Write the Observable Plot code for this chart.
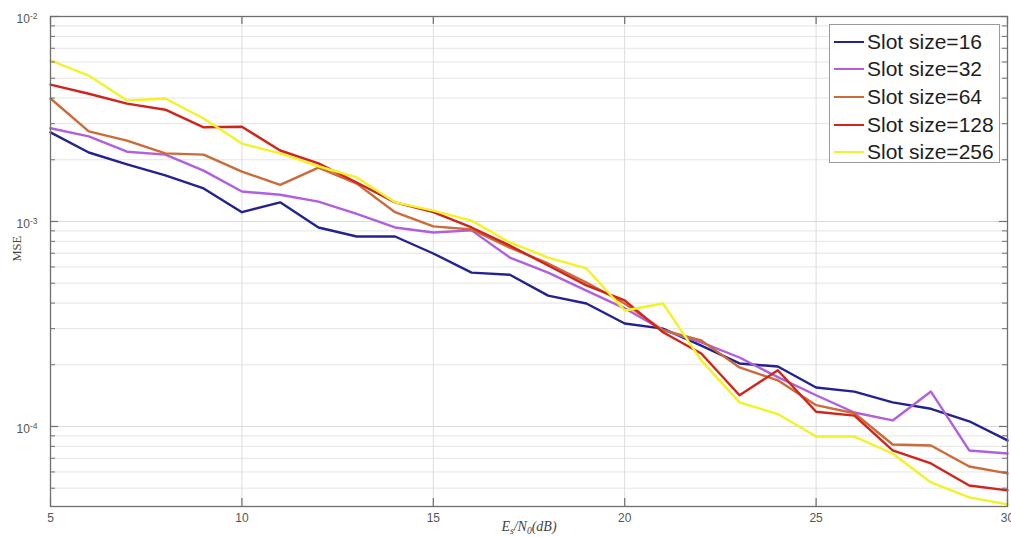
<!DOCTYPE html>
<html><head><meta charset="utf-8">
<script src="https://cdn.jsdelivr.net/npm/d3@7"></script>
<script src="https://cdn.jsdelivr.net/npm/@observablehq/plot@0.6"></script>
<style>
body{margin:0;background:#fff;}
#wrap{position:relative;width:1011px;height:537px;overflow:hidden;}
#legend{position:absolute;left:829px;top:24px;width:171px;height:139px;border:1.3px solid #9a9a9a;background:#fff;box-sizing:border-box;padding-top:3px;font-family:"Liberation Sans",Arial,sans-serif;font-size:21px;color:#1e1e1e;}
#legend .row{display:flex;align-items:center;height:27.6px;}
#legend .sw{width:30px;height:2px;margin-left:4px;margin-right:3px;}
</style>
</head><body><div id="wrap"></div>
<script>
const snr = [5,6,7,8,9,10,11,12,13,14,15,16,17,18,19,20,21,22,23,24,25,26,27,28,29,30];
const mse16  = [2.72e-3,2.17e-3,1.9e-3,1.68e-3,1.45e-3,1.11e-3,1.24e-3,9.35e-4,8.45e-4,8.45e-4,6.98e-4,5.63e-4,5.5e-4,4.35e-4,3.98e-4,3.18e-4,3.0e-4,2.48e-4,2.03e-4,1.96e-4,1.55e-4,1.48e-4,1.31e-4,1.22e-4,1.06e-4,8.55e-5];
const mse32  = [2.85e-3,2.6e-3,2.19e-3,2.12e-3,1.77e-3,1.4e-3,1.35e-3,1.25e-3,1.09e-3,9.35e-4,8.84e-4,9.05e-4,6.67e-4,5.63e-4,4.6e-4,3.77e-4,2.95e-4,2.57e-4,2.17e-4,1.74e-4,1.42e-4,1.17e-4,1.07e-4,1.48e-4,7.64e-5,7.38e-5];
const mse64  = [3.98e-3,2.75e-3,2.48e-3,2.15e-3,2.12e-3,1.75e-3,1.51e-3,1.83e-3,1.53e-3,1.11e-3,9.46e-4,9.14e-4,7.46e-4,6.24e-4,5.04e-4,3.98e-4,2.95e-4,2.63e-4,1.94e-4,1.68e-4,1.27e-4,1.16e-4,8.17e-5,8.07e-5,6.38e-5,5.9e-5];
const mse128 = [4.65e-3,4.2e-3,3.76e-3,3.51e-3,2.88e-3,2.9e-3,2.22e-3,1.92e-3,1.55e-3,1.24e-3,1.11e-3,9.35e-4,7.63e-4,6.1e-4,4.88e-4,4.12e-4,2.88e-4,2.27e-4,1.42e-4,1.88e-4,1.18e-4,1.13e-4,7.64e-5,6.6e-5,5.15e-5,4.88e-5];
const mse256 = [6.1e-3,5.15e-3,3.89e-3,3.98e-3,3.18e-3,2.4e-3,2.15e-3,1.86e-3,1.64e-3,1.24e-3,1.13e-3,1.01e-3,7.9e-4,6.67e-4,5.9e-4,3.68e-4,3.98e-4,2.1e-4,1.31e-4,1.15e-4,8.93e-5,8.93e-5,7.38e-5,5.33e-5,4.51e-5,4.17e-5];
const seriesNames = ["Slot size=16","Slot size=32","Slot size=64","Slot size=128","Slot size=256"];
const seriesColors = ["#23238f","#b060dc","#cc6a38","#cf251c","#f2f226"];
const xTicks = [5,10,15,20,25,30];
const xTickLabels = ["5","10","15","20","25","30"];
const yMajor = [1e-2,1e-3,1e-4];
const yTickBase = ["10","10","10"];
const yTickExp = ["-2","-3","-4"];
const yMinor = [5e-5,6e-5,7e-5,8e-5,9e-5,2e-4,3e-4,4e-4,5e-4,6e-4,7e-4,8e-4,9e-4,2e-3,3e-3,4e-3,5e-3,6e-3,7e-3,8e-3,9e-3];

const allSeries = [mse16,mse32,mse64,mse128,mse256];
const data = [];
allSeries.forEach((arr,i)=>arr.forEach((v,j)=>data.push({x:snr[j],y:v,s:seriesNames[i]})));

const W=1011,H=537,mL=50,mR=4,mT=16,mB=31;
const pw=W-mL-mR, ph=H-mT-mB;
const axisStroke="#6f6f6f";
const serif="'Liberation Serif','Times New Roman',serif";

const chart = Plot.plot({
  width:W,height:H,marginLeft:mL,marginRight:mR,marginTop:mT,marginBottom:mB,
  style:{fontFamily:"'Liberation Sans',Arial,sans-serif",fontSize:"12px",color:"#555",background:"#fff"},
  x:{domain:[5,30]},
  y:{type:"log",domain:[4.07e-5,1e-2]},
  color:{domain:seriesNames,range:seriesColors},
  marks:[
    Plot.ruleY(yMinor,{y:d=>d,stroke:"#e4e4e4",strokeWidth:1}),
    Plot.ruleY(yMajor,{y:d=>d,stroke:"#dadada",strokeWidth:1}),
    Plot.ruleX([10,15,20,25],{x:d=>d,stroke:"#dcdcdc",strokeWidth:1}),
    Plot.line(data,{x:"x",y:"y",z:"s",stroke:"s",strokeWidth:2.4,strokeLinejoin:"round"}),
    Plot.frame({stroke:axisStroke,strokeWidth:1.3}),
    Plot.tickX(xTicks,{x:d=>d,insetTop:ph-8,stroke:axisStroke,strokeWidth:1.2}),
    Plot.tickX(xTicks,{x:d=>d,insetBottom:ph-8,stroke:axisStroke,strokeWidth:1.2}),
    Plot.tickY(yMajor,{y:d=>d,insetRight:pw-8,stroke:axisStroke,strokeWidth:1.2}),
    Plot.tickY(yMajor,{y:d=>d,insetLeft:pw-8,stroke:axisStroke,strokeWidth:1.2}),
    Plot.tickY(yMinor,{y:d=>d,insetRight:pw-5,stroke:axisStroke,strokeWidth:1}),
    Plot.tickY(yMinor,{y:d=>d,insetLeft:pw-5,stroke:axisStroke,strokeWidth:1}),
    Plot.axisX({ticks:xTicks,tickSize:0,tickPadding:7,tickFormat:d=>xTickLabels[xTicks.indexOf(d)],label:null}),
    Plot.axisY({ticks:yMajor,tickSize:0,tickPadding:13,tickFormat:d=>yTickBase[yMajor.indexOf(d)]+"|"+yTickExp[yMajor.indexOf(d)],label:null}),
    Plot.text(["MSE"],{frameAnchor:"left",dx:-34,rotate:-90,fontFamily:serif,fontSize:12.5,fill:"#444"}),
    Plot.text(["E|s|/N|0|(dB)"],{frameAnchor:"bottom",dy:24,fontFamily:serif,fontStyle:"italic",fontSize:14,fill:"#444"})
  ]
});
const NS="http://www.w3.org/2000/svg";
chart.querySelectorAll('g[aria-label="y-axis tick label"] text').forEach(t=>{
  const [b,e]=t.textContent.split("|");
  t.textContent="";
  t.setAttribute("text-anchor","end");
  const s1=document.createElementNS(NS,"tspan");s1.textContent=b;s1.setAttribute("dy","0.25em");
  const s2=document.createElementNS(NS,"tspan");s2.textContent=e;s2.setAttribute("dy","-0.55em");s2.setAttribute("font-size","8.5px");
  t.appendChild(s1);t.appendChild(s2);
});
chart.querySelectorAll('g[aria-label="text"] text').forEach(t=>{
  if(t.textContent.indexOf("|")<0)return;
  const parts=t.textContent.split("|");
  t.textContent="";
  parts.forEach((p,i)=>{
    const s=document.createElementNS(NS,"tspan");s.textContent=p;
    if(i%2===1){s.setAttribute("font-size","9.5px");s.setAttribute("dy","3");}
    else if(i>0){s.setAttribute("dy","-3");}
    t.appendChild(s);
  });
});
const wrap=document.getElementById("wrap");
wrap.appendChild(chart);
const leg=document.createElement("div");
leg.id="legend";
seriesNames.forEach((n,i)=>{
  const r=document.createElement("div");r.className="row";
  const sw=document.createElement("div");sw.className="sw";sw.style.background=seriesColors[i];
  const t=document.createElement("span");t.textContent=n;
  r.appendChild(sw);r.appendChild(t);leg.appendChild(r);
});
wrap.appendChild(leg);
</script>
</body></html>
